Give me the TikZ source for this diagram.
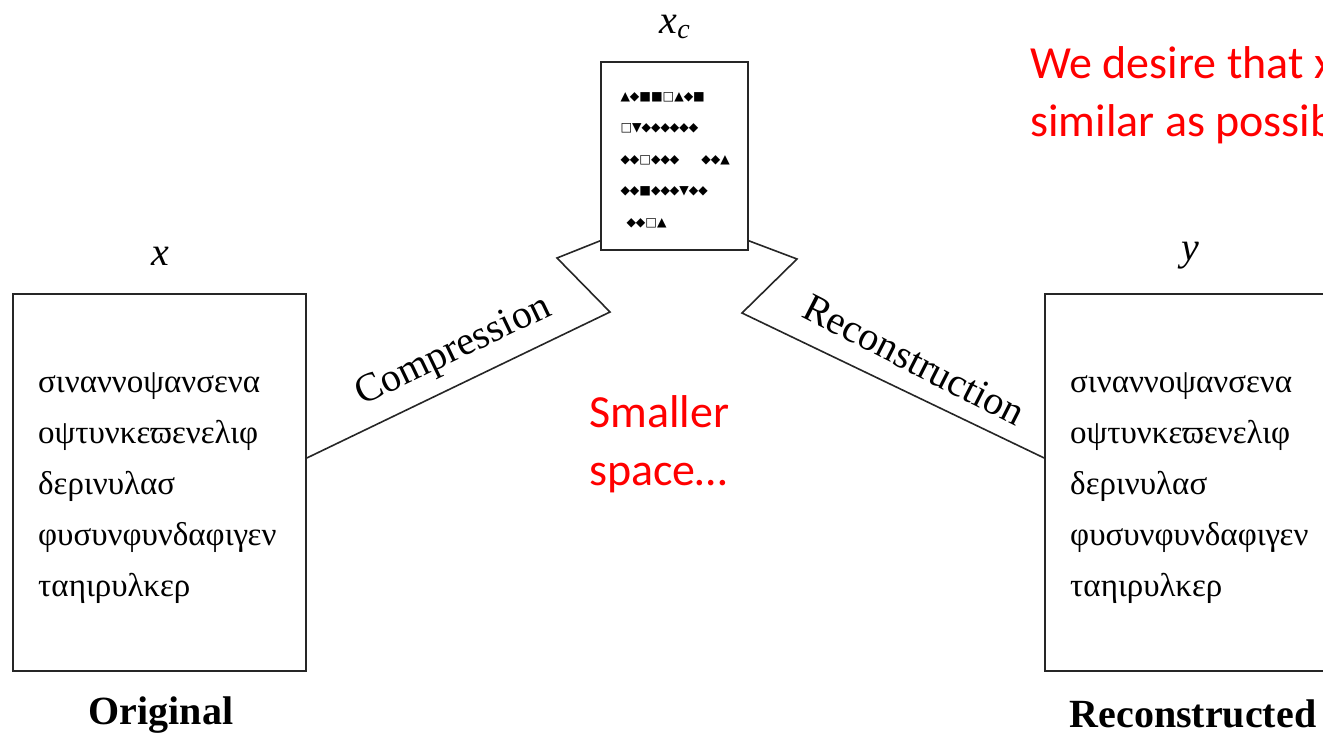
\documentclass[tikz,border=0pt]{standalone}
\usepackage{fontspec}
\setmainfont{Liberation Serif}
\newfontfamily\redfont{Carlito}
\newfontfamily\symfont{DejaVu Sans}
\definecolor{myred}{RGB}{255,0,0}
\tikzset{
  box/.style={draw=black!85, line width=1.6pt, inner sep=0pt},
  bigbox/.style={box, minimum width=293pt, minimum height=377pt},
  greek/.style={anchor=west, inner sep=0pt, align=left, font=\fontsize{33}{51}\selectfont},
  conn/.style={draw=black!85, line width=1.6pt, line join=miter},
  lab/.style={font=\fontsize{40}{48}\selectfont\itshape},
  captext/.style={font=\fontsize{40}{48}\selectfont\bfseries},
  proc/.style={font=\fontsize{40}{48}\selectfont},
  note/.style={text=myred, font=\redfont\fontsize{46}{58}\selectfont, align=left},
}
\begin{document}
\begin{tikzpicture}[x=1pt,y=-1pt]
\clip (0,0) rectangle (1323,736);
\fill[white] (0,0) rectangle (1323,736);

% boxes
\node[bigbox] (orig) at (159.5,482.5) {};
\node[bigbox] (rec) at (1191.5,482.5) {};
\node[greek] (gtx1) at (38,488) {σιναννοψανσενα\\οψτυνκεϖενελιφ\\δερινυλασ\\φυσυνφυνδαφιγεν\\ταηιρυλκερ};
\node[greek] (gtx2) at (1070,488) {σιναννοψανσενα\\οψτυνκεϖενελιφ\\δερινυλασ\\φυσυνφυνδαφιγεν\\ταηιρυλκερ};
\node[box, minimum width=147pt, minimum height=188pt] (xc) at (674.5,156) {};
\node[anchor=west, align=left, font=\symfont\fontsize{12.3}{31.5}\selectfont] (sym) at (617,160)
 {▲◆■■□▲◆■\\□▼◆◆◆◆◆◆\\◆◆□◆◆◆\hspace{22pt}◆◆▲\\◆◆■◆◆◆▼◆◆\\\hspace{6pt}◆◆□▲};

% labels
\node[lab] (lx) at (160,256) {x};
\node[lab] (ly) at (1190,256) {y};
\node[lab] (lxc) at (675,27) {x\textsubscript{c}};
\node[captext] (lo) at (161,715) {Original};
\node[captext] (lr) at (1193,714) {Reconstructed};

% connectors
\coordinate (c1) at (610,312);
\coordinate (c2) at (557,258);
\coordinate (r1) at (797,259);
\coordinate (r2) at (742,313);
\draw[conn] ([yshift=24.5pt]orig.east) -- (c1) -- (c2) -- ([yshift=10pt]xc.south west);
\draw[conn] ([yshift=10pt]xc.south east) -- (r1) -- (r2) -- ([yshift=24.5pt]rec.west);

\node[proc, rotate=25.6] (tc) at (454,352) {Compression};
\node[proc, rotate=-27] (tr) at (914,360) {Reconstruction};

% red notes
\node[note, anchor=north west, inner sep=0pt] (n1) at (589,395) {Smaller\\space…};
\node[note, anchor=north west, inner sep=0pt] (n2) at (1030,46) {We desire that x and y are as\\similar as possible};
\end{tikzpicture}
\end{document}
